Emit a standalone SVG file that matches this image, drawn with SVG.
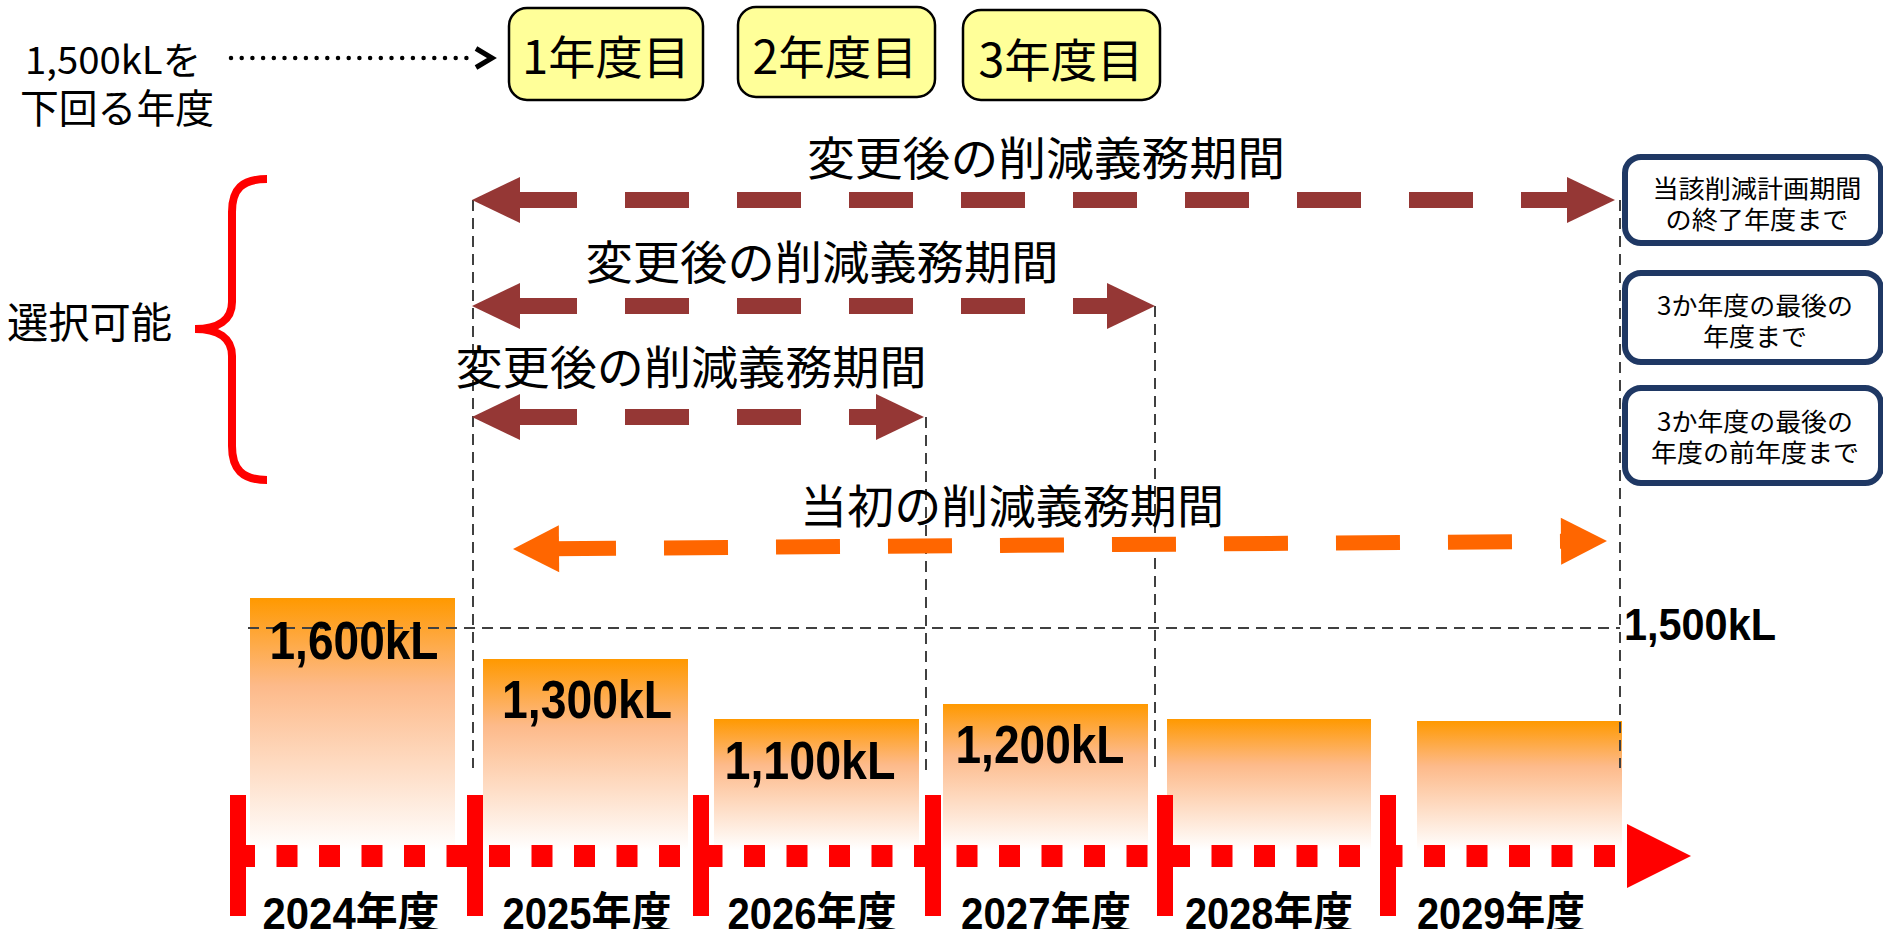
<svg xmlns="http://www.w3.org/2000/svg" width="1883" height="929" viewBox="0 0 1883 929">
<style>
.jp{font-family:"Noto Sans CJK JP","Noto Sans CJK SC",sans-serif;fill:#000}
.num{font-family:"Liberation Sans","Noto Sans CJK JP",sans-serif;font-weight:bold;fill:#000}
.ybox{fill:#FFFF99;stroke:#000;stroke-width:2.5}
.rbox{fill:#fff;stroke:#1F3864;stroke-width:6}
.guide{fill:none;stroke:#404040;stroke-width:2;stroke-dasharray:11 7}
.brown{fill:none;stroke:#953735;stroke-width:16;stroke-dasharray:64 48}
.orange{fill:none;stroke:#FF6600;stroke-width:15;stroke-dasharray:64 48}
.tick{fill:#FF0000}
</style>
<defs>
<linearGradient id="barg" x1="0" y1="0" x2="0" y2="1">
<stop offset="0" stop-color="#FF9900"/>
<stop offset="0.35" stop-color="#FDBA8A"/>
<stop offset="1" stop-color="#FFFFFF"/>
</linearGradient>
<polygon id="bh" points="0,0 -48,-23 -48,23" fill="#953735"/>
<polygon id="oh" points="0,0 -46,-23.5 -46,23.5" fill="#FF6600"/>
</defs>
<rect width="1883" height="929" fill="#fff"/>

<!-- bars -->
<g id="bar-2024"><rect x="250" y="598" width="205" height="252" fill="url(#barg)"/></g>
<g id="bar-2025"><rect x="483" y="659" width="205" height="191" fill="url(#barg)"/></g>
<g id="bar-2026"><rect x="714" y="719" width="205" height="131" fill="url(#barg)"/></g>
<g id="bar-2027"><rect x="943" y="704" width="205" height="146" fill="url(#barg)"/></g>
<g id="bar-2028"><rect x="1167" y="719" width="204" height="131" fill="url(#barg)"/></g>
<g id="bar-2029"><rect x="1417" y="721" width="205" height="129" fill="url(#barg)"/></g>

<g id="connectors">
<!-- guide lines -->
<line class="guide" x1="248" y1="628" x2="1620" y2="628"/>
<line class="guide" x1="473" y1="200" x2="473" y2="768"/>
<line class="guide" x1="926" y1="417" x2="926" y2="770"/>
<line class="guide" x1="1155" y1="306" x2="1155" y2="768"/>
<line class="guide" x1="1620" y1="200" x2="1620" y2="768"/>

<!-- dotted pointer -->
<line x1="231" y1="58" x2="474" y2="58" stroke="#000" stroke-width="4.5" stroke-linecap="round" stroke-dasharray="0 10.7"/>
<polyline points="476,48.5 492,58 476,67.5" fill="none" stroke="#000" stroke-width="5"/>

<!-- changed period arrows -->
<g id="arrow-1">
<line class="brown" x1="513" y1="200" x2="1580" y2="200"/>
<use href="#bh" transform="translate(472,200) scale(-1,1)"/>
<use href="#bh" transform="translate(1615,200)"/>
</g>
<g id="arrow-2">
<line class="brown" x1="513" y1="306" x2="1120" y2="306"/>
<use href="#bh" transform="translate(472,306) scale(-1,1)"/>
<use href="#bh" transform="translate(1155,306)"/>
</g>
<g id="arrow-3">
<line class="brown" x1="513" y1="417" x2="890" y2="417"/>
<use href="#bh" transform="translate(472,417) scale(-1,1)"/>
<use href="#bh" transform="translate(924,417)"/>
</g>
<!-- original period arrow -->
<g id="arrow-orig" transform="rotate(-0.42 513 549)">
<line class="orange" x1="552" y1="549" x2="1572" y2="549"/>
<use href="#oh" transform="translate(513,549) scale(-1,1)"/>
<use href="#oh" transform="translate(1607,549)"/>
</g>

<!-- brace -->
<path d="M267,179 C242,179 232,189 232,212 L232,302 C232,320 218,329 195,329 C218,329 232,338 232,356 L232,446 C232,469 242,480 267,480" fill="none" stroke="#FF0000" stroke-width="8"/>

<!-- timeline axis -->
<g id="axis">
<line x1="234" y1="856" x2="1620" y2="856" stroke="#FF0000" stroke-width="22" stroke-dasharray="21 21.5"/>
<polygon points="1627,824 1691,856 1627,888" fill="#FF0000"/>
<rect class="tick" x="230" y="795" width="16" height="121"/>
<rect class="tick" x="467" y="795" width="16" height="121"/>
<rect class="tick" x="693" y="795" width="16" height="121"/>
<rect class="tick" x="925" y="795" width="16" height="121"/>
<rect class="tick" x="1157" y="795" width="16" height="121"/>
<rect class="tick" x="1380" y="795" width="16" height="121"/>
</g>
</g>

<!-- top left label -->
<g id="label-below">
<text class="jp" x="25" y="74" font-size="38" textLength="176" lengthAdjust="spacingAndGlyphs">1,500kLを</text>
<text class="jp" x="20" y="123" font-size="40" textLength="194" lengthAdjust="spacingAndGlyphs">下回る年度</text>
</g>

<!-- year count boxes -->
<g id="year1"><rect class="ybox" x="509" y="8" width="194" height="92" rx="18"/><text class="jp" x="606" y="74" font-size="46" text-anchor="middle" textLength="168" lengthAdjust="spacingAndGlyphs">1年度目</text></g>
<g id="year2"><rect class="ybox" x="738" y="7" width="197" height="90" rx="18"/><text class="jp" x="835" y="74" font-size="46" text-anchor="middle" textLength="165" lengthAdjust="spacingAndGlyphs">2年度目</text></g>
<g id="year3"><rect class="ybox" x="963" y="10" width="197" height="90" rx="18"/><text class="jp" x="1061" y="77" font-size="46" text-anchor="middle" textLength="165" lengthAdjust="spacingAndGlyphs">3年度目</text></g>

<!-- period labels -->
<g id="label-changed-1"><text class="jp" x="1046" y="175" font-size="46" text-anchor="middle" textLength="478" lengthAdjust="spacingAndGlyphs">変更後の削減義務期間</text></g>
<g id="label-changed-2"><text class="jp" x="822" y="279" font-size="46" text-anchor="middle" textLength="473" lengthAdjust="spacingAndGlyphs">変更後の削減義務期間</text></g>
<g id="label-changed-3"><text class="jp" x="691" y="384" font-size="46" text-anchor="middle" textLength="471" lengthAdjust="spacingAndGlyphs">変更後の削減義務期間</text></g>
<g id="label-original"><text class="jp" x="1012" y="523" font-size="46" text-anchor="middle" textLength="424" lengthAdjust="spacingAndGlyphs">当初の削減義務期間</text></g>
<g id="label-select"><text class="jp" x="7" y="338" font-size="42" textLength="165" lengthAdjust="spacingAndGlyphs">選択可能</text></g>

<!-- right option boxes -->
<g id="opt1"><rect class="rbox" x="1625" y="157" width="256" height="86" rx="16"/>
<text class="jp" x="1757" y="198" font-size="25" text-anchor="middle" textLength="209" lengthAdjust="spacingAndGlyphs">当該削減計画期間</text>
<text class="jp" x="1757" y="229" font-size="25" text-anchor="middle" textLength="183" lengthAdjust="spacingAndGlyphs">の終了年度まで</text></g>
<g id="opt2"><rect class="rbox" x="1625" y="273" width="256" height="89" rx="16"/>
<text class="jp" x="1755" y="315" font-size="25" text-anchor="middle" textLength="196" lengthAdjust="spacingAndGlyphs">3か年度の最後の</text>
<text class="jp" x="1755" y="346" font-size="25" text-anchor="middle" textLength="104" lengthAdjust="spacingAndGlyphs">年度まで</text></g>
<g id="opt3"><rect class="rbox" x="1625" y="388" width="256" height="95" rx="16"/>
<text class="jp" x="1755" y="431" font-size="25" text-anchor="middle" textLength="196" lengthAdjust="spacingAndGlyphs">3か年度の最後の</text>
<text class="jp" x="1755" y="462" font-size="25" text-anchor="middle" textLength="208" lengthAdjust="spacingAndGlyphs">年度の前年度まで</text></g>

<!-- values -->
<g id="val-2024"><text class="num" x="354" y="659" font-size="54" text-anchor="middle" textLength="169" lengthAdjust="spacingAndGlyphs">1,600kL</text></g>
<g id="val-2025"><text class="num" x="587" y="718" font-size="54" text-anchor="middle" textLength="170" lengthAdjust="spacingAndGlyphs">1,300kL</text></g>
<g id="val-2026"><text class="num" x="810" y="779" font-size="54" text-anchor="middle" textLength="171" lengthAdjust="spacingAndGlyphs">1,100kL</text></g>
<g id="val-2027"><text class="num" x="1040" y="763" font-size="54" text-anchor="middle" textLength="169" lengthAdjust="spacingAndGlyphs">1,200kL</text></g>
<g id="val-limit"><text class="num" x="1624" y="640" font-size="44" textLength="152" lengthAdjust="spacingAndGlyphs">1,500kL</text></g>

<!-- year labels -->
<g id="y2024"><text class="num" x="351" y="929" font-size="44" text-anchor="middle" textLength="177" lengthAdjust="spacingAndGlyphs">2024年度</text></g>
<g id="y2025"><text class="num" x="587" y="929" font-size="44" text-anchor="middle" textLength="169" lengthAdjust="spacingAndGlyphs">2025年度</text></g>
<g id="y2026"><text class="num" x="812" y="929" font-size="44" text-anchor="middle" textLength="169" lengthAdjust="spacingAndGlyphs">2026年度</text></g>
<g id="y2027"><text class="num" x="1046" y="929" font-size="44" text-anchor="middle" textLength="170" lengthAdjust="spacingAndGlyphs">2027年度</text></g>
<g id="y2028"><text class="num" x="1269" y="929" font-size="44" text-anchor="middle" textLength="168" lengthAdjust="spacingAndGlyphs">2028年度</text></g>
<g id="y2029"><text class="num" x="1501" y="929" font-size="44" text-anchor="middle" textLength="168" lengthAdjust="spacingAndGlyphs">2029年度</text></g>
</svg>
